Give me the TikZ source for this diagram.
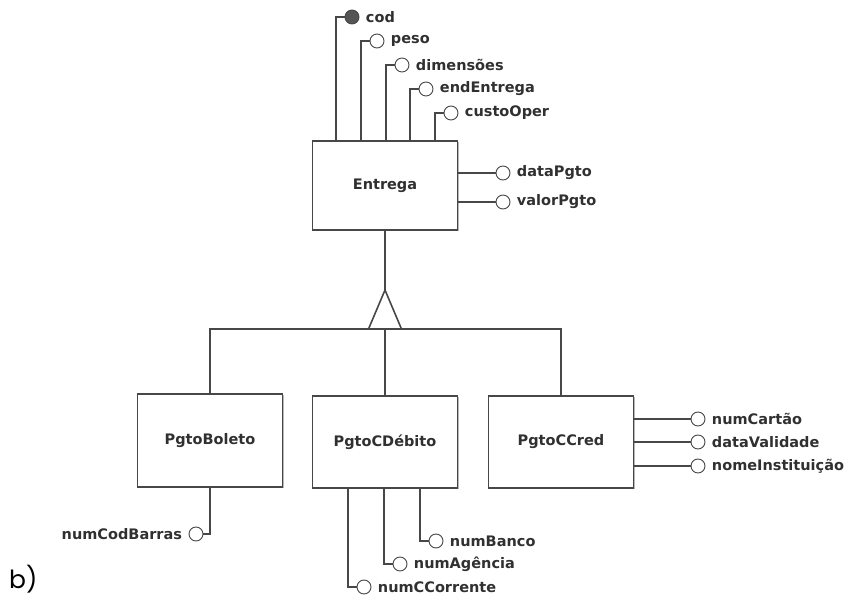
\documentclass[tikz,border=0pt]{standalone}
\usepackage{fontspec}
\setmainfont{DejaVu Sans}
\newfontfamily\labfont{Poppins}
\usetikzlibrary{shadows}
\definecolor{ln}{HTML}{474747}
\definecolor{tx}{HTML}{303030}
\definecolor{fillc}{HTML}{555555}
\begin{document}
\begin{tikzpicture}[x=1pt,y=-1pt,
  cls/.style={draw=ln, line width=1.3pt, fill=white, minimum width=145pt, minimum height=91pt,
    inner sep=0pt, font=\fontsize{14.5}{17}\selectfont\bfseries, text=tx,
    drop shadow={shadow xshift=1.2pt, shadow yshift=-1.2pt, fill=gray!70, opacity=0.8}},
  att/.style={circle, draw=ln, line width=0.9pt, fill=white, minimum size=14pt, inner sep=0pt},
  key/.style={att, fill=fillc},
  lblr/.style={label={[font=\fontsize{14.5}{17}\selectfont\bfseries, text=tx, label distance=3pt]right:#1}},
  lbll/.style={label={[font=\fontsize{14.5}{17}\selectfont\bfseries, text=tx, label distance=3pt]left:#1}},
  con/.style={draw=ln, line width=1.1pt},
]
\useasboundingbox (0,0) rectangle (852,604);

% classes
\node[cls, minimum height=89pt] (Entrega) at (385,185.5) {Entrega};
\node[cls, minimum height=93pt] (PgtoBoleto) at (210,440.5) {PgtoBoleto};
\node[cls, minimum height=92pt] (PgtoCDebito) at (385,442) {PgtoCDébito};
\node[cls, minimum height=92pt] (PgtoCCred) at (561,442) {PgtoCCred};

% Entrega top attributes
\node[key, lblr=cod] (cod) at (352,17) {};
\node[att, lblr=peso] (peso) at (377,41) {};
\node[att, lblr=dimensões] (dim) at (402,65) {};
\node[att, lblr=endEntrega] (end) at (426,89) {};
\node[att, lblr=custoOper] (custo) at (451,113) {};
\coordinate (t1) at (336,141);
\coordinate (t2) at (361,141);
\coordinate (t3) at (386,141);
\coordinate (t4) at (410,141);
\coordinate (t5) at (435,141);
\draw[con] (cod.west) -| (t1);
\draw[con] (peso.west) -| (t2);
\draw[con] (dim.west) -| (t3);
\draw[con] (end.west) -| (t4);
\draw[con] (custo.west) -| (t5);

% Entrega right attributes
\node[att, lblr=dataPgto] (dpg) at (503,173) {};
\node[att, lblr=valorPgto] (vpg) at (503,202) {};
\draw[con] (Entrega.east |- dpg) -- (dpg.west);
\draw[con] (Entrega.east |- vpg) -- (vpg.west);

% generalization
\coordinate (tA) at (385,290);
\coordinate (tL) at (368.5,329);
\coordinate (tR) at (401.5,329);
\coordinate (bar) at (385,329);
\draw[con] (Entrega.south) -- (tA);
\draw[draw=ln, line width=1.6pt, line join=miter] (tA) -- (tL) -- (tR) -- cycle;
\draw[con] (PgtoBoleto.north) |- (tL);
\draw[con] (tR) -| (PgtoCCred.north);
\draw[con] (bar) -- (PgtoCDebito.north);

% PgtoBoleto attribute
\node[att, lbll=numCodBarras] (ncb) at (196,534) {};
\draw[con] (PgtoBoleto.south) |- (ncb.east);

% PgtoCDebito attributes
\node[att, lblr=numBanco] (nbanco) at (436,541) {};
\node[att, lblr=numAgência] (nag) at (400,564) {};
\node[att, lblr=numCCorrente] (ncc) at (364,587) {};
\coordinate (b1) at (420,488);
\coordinate (b2) at (384,488);
\coordinate (b3) at (348,488);
\draw[con] (b1) |- (nbanco.west);
\draw[con] (b2) |- (nag.west);
\draw[con] (b3) |- (ncc.west);

% PgtoCCred attributes
\node[att, lblr=numCartão] (ncart) at (698,419) {};
\node[att, lblr=dataValidade] (dval) at (698,442) {};
\node[att, lblr=nomeInstituição] (ninst) at (698,466) {};
\draw[con] (PgtoCCred.east |- ncart) -- (ncart.west);
\draw[con] (PgtoCCred.east |- dval) -- (dval.west);
\draw[con] (PgtoCCred.east |- ninst) -- (ninst.west);

% figure label
\node[anchor=south west, inner sep=0pt, font=\labfont\fontsize{25}{28}\selectfont, text=black] (blabel) at (9,593) {b)};
\end{tikzpicture}
\end{document}
